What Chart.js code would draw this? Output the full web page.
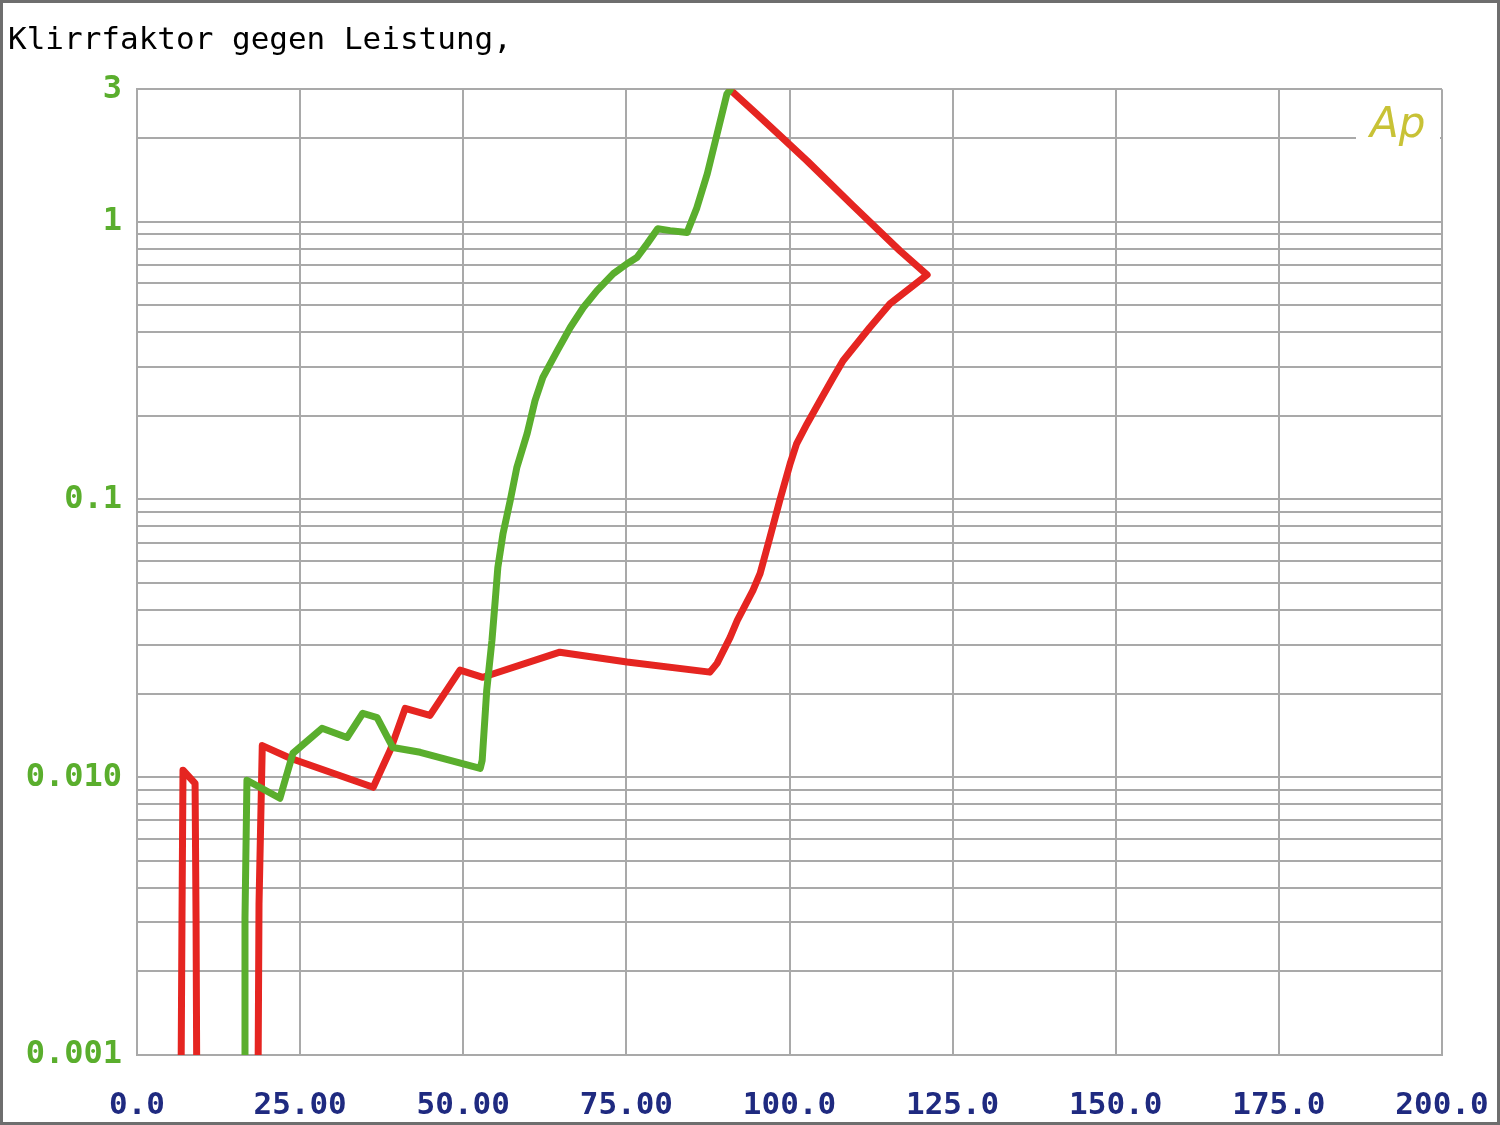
<!DOCTYPE html>
<html>
<head>
<meta charset="utf-8">
<script src="https://cdn.jsdelivr.net/npm/chart.js@4.4.1/dist/chart.umd.min.js"></script>
<style>
  html, body { margin: 0; padding: 0; background: #ffffff; }
  #wrap { position: relative; width: 1500px; height: 1125px; }
  #frame { position: absolute; left: 0; top: 0; width: 1500px; height: 1125px; box-sizing: border-box; border: 3px solid #6e6e6e; pointer-events: none; }
  canvas { display: block; }
</style>
</head>
<body>
<div id="wrap">
  <canvas id="c" width="1500" height="1125"></canvas>
  <div id="frame"></div>
</div>
<script>
// ---- Data ----
const titleText = 'Klirrfaktor gegen Leistung,';

// x tick labels (power axis, 0..200 step 25)
const xTickValues = [0, 25, 50, 75, 100, 125, 150, 175, 200];
const xTickLabels = ['0.0', '25.00', '50.00', '75.00', '100.0', '125.0', '150.0', '175.0', '200.0'];

// y grid ticks (logarithmic, 0.001 .. 3)
const yTickValues = [0.001, 0.002, 0.003, 0.004, 0.005, 0.006, 0.007, 0.008, 0.009,
                     0.01, 0.02, 0.03, 0.04, 0.05, 0.06, 0.07, 0.08, 0.09,
                     0.1, 0.2, 0.3, 0.4, 0.5, 0.6, 0.7, 0.8, 0.9,
                     1, 2, 3];
const yLabelValues = [0.001, 0.01, 0.1, 1, 3];
const yLabelTexts = ['0.001', '0.010', '0.1', '1', '3'];

// Red channel (values below 0.001 fall under the axis and are clipped)
const redX = [6.7, 6.9, 7.05, 8.9, 9.05, 9.2, 18.5, 18.7, 19.2, 23.5, 36.2, 38.8, 41.1, 44.9,
              49.5, 53.0, 64.8, 75.1, 87.8, 88.9, 90.9, 92.0, 94.4, 95.5, 97.0, 98.5, 100.1,
              101.1, 102.7, 104.7, 106.7, 108.2, 112.3, 115.4, 121.1, 116.9, 109.7, 102.7, 95.0, 90.9];
const redY = [0.0005, 0.00325, 0.0106, 0.0095, 0.0031, 0.0005, 0.0005, 0.0035, 0.013, 0.0117,
              0.0092, 0.0125, 0.0177, 0.0167, 0.0243, 0.0229, 0.0282, 0.026, 0.0239, 0.0257,
              0.0319, 0.0367, 0.0471, 0.0542, 0.073, 0.0991, 0.1346, 0.159, 0.1875, 0.227,
              0.275, 0.316, 0.416, 0.507, 0.644, 0.787, 1.144, 1.656, 2.44, 2.99];

// Green channel
const greenX = [16.5, 16.55, 16.85, 21.9, 23.9, 28.35, 32.2, 34.6, 36.8, 39.2, 43.4, 52.6, 52.9,
                53.6, 54.4, 54.9, 55.3, 56.1, 57.2, 58.2, 59.8, 61.0, 62.2, 64.4, 66.4, 68.4,
                70.5, 73.0, 75.1, 76.6, 78.2, 79.8, 81.7, 84.3, 85.8, 87.4, 88.9, 90.4, 90.9];
const greenY = [0.0005, 0.0031, 0.00975, 0.0084, 0.0122, 0.015, 0.0139, 0.017, 0.0164, 0.0128,
                0.0123, 0.01076, 0.0115, 0.0206, 0.0311, 0.0433, 0.0569, 0.0755, 0.0991, 0.13,
                0.173, 0.227, 0.275, 0.343, 0.416, 0.491, 0.565, 0.65, 0.706, 0.743, 0.834,
                0.944, 0.929, 0.914, 1.122, 1.488, 2.07, 2.88, 2.99];

// ---- Chart ----
const toPoints = (xs, ys) => xs.map((x, i) => ({ x: x, y: ys[i] }));

const gridColor = '#a9a9a9';

const apLogo = {
  id: 'apLogo',
  afterDraw(chart) {
    const ctx = chart.ctx;
    const ys = chart.scales.y;
    const area = chart.chartArea;
    const yLine = ys.getPixelForValue(2);
    ctx.save();
    ctx.fillStyle = '#ffffff';
    ctx.fillRect(1356, yLine - 3, area.right - 2 - 1356, 6);
    ctx.fillStyle = '#c8c236';
    ctx.font = 'italic 200 42px "DejaVu Sans"';
    ctx.textBaseline = 'alphabetic';
    ctx.textAlign = 'left';
    ctx.fillText('Ap', 1370, 137);
    ctx.restore();
  }
};

new Chart(document.getElementById('c'), {
  type: 'line',
  data: {
    datasets: [
      {
        label: 'Grün',
        data: toPoints(greenX, greenY),
        borderColor: '#5aae2d',
        borderWidth: 7,
        pointRadius: 0,
        tension: 0,
        fill: false,
        borderJoinStyle: 'round',
        borderCapStyle: 'round'
      },
      {
        label: 'Rot',
        data: toPoints(redX, redY),
        borderColor: '#e52521',
        borderWidth: 7,
        pointRadius: 0,
        tension: 0,
        fill: false,
        borderJoinStyle: 'round',
        borderCapStyle: 'round'
      }
    ]
  },
  options: {
    responsive: false,
    animation: false,
    devicePixelRatio: 1,
    layout: { padding: { left: 8, right: 58, top: 0, bottom: 0 } },
    plugins: {
      legend: { display: false },
      tooltip: { enabled: false },
      title: {
        display: true,
        text: titleText,
        align: 'start',
        color: '#000000',
        font: { family: '"DejaVu Sans Mono", monospace', size: 31, weight: 'normal', lineHeight: 1.2 },
        padding: { top: 22, bottom: 30 }
      }
    },
    scales: {
      x: {
        type: 'linear',
        min: 0,
        max: 200,
        afterBuildTicks: (scale) => { scale.ticks = xTickValues.map(v => ({ value: v })); },
        afterFit: (scale) => { scale.height = 70; scale.paddingLeft = 0; scale.paddingRight = 0; },
        grid: { color: gridColor, lineWidth: 2, drawTicks: false },
        border: { display: true, color: gridColor, width: 2 },
        ticks: {
          autoSkip: false,
          maxRotation: 0,
          padding: 32,
          color: '#1f2a80',
          font: { family: '"DejaVu Sans Mono", monospace', size: 31, weight: 'bold' },
          callback: (value, index) => xTickLabels[index]
        }
      },
      y: {
        type: 'logarithmic',
        min: 0.001,
        max: 3,
        afterBuildTicks: (scale) => { scale.ticks = yTickValues.map(v => ({ value: v })); },
        afterFit: (scale) => { scale.width = 129; scale.paddingTop = 0; scale.paddingBottom = 0; },
        grid: { color: gridColor, lineWidth: 2, drawTicks: false },
        border: { display: true, color: gridColor, width: 2 },
        ticks: {
          autoSkip: false,
          padding: 15,
          color: '#5aae2d',
          font: { family: '"DejaVu Sans Mono", monospace', size: 32, weight: 'bold' },
          callback: (value) => {
            const i = yLabelValues.findIndex(v => Math.abs(v - value) / v < 1e-6);
            return i >= 0 ? yLabelTexts[i] : '';
          }
        }
      }
    }
  },
  plugins: [apLogo]
});
</script>
</body>
</html>
